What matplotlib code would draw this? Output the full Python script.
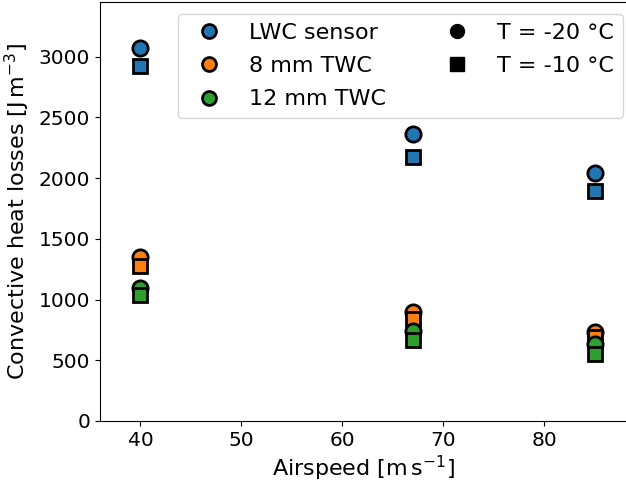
import matplotlib
matplotlib.use("Agg")
import matplotlib.pyplot as plt
from matplotlib.lines import Line2D

airspeed = [40, 67, 85]
sensors = ["LWC sensor", "8 mm TWC", "12 mm TWC"]
colors = ["#1f77b4", "#ff7f0e", "#2ca02c"]
# convective heat losses [J m^-3]
loss_m20 = {"LWC sensor": [3070, 2365, 2045],
            "8 mm TWC": [1350, 895, 735],
            "12 mm TWC": [1095, 745, 630]}
loss_m10 = {"LWC sensor": [2920, 2170, 1890],
            "8 mm TWC": [1275, 840, 690],
            "12 mm TWC": [1040, 670, 555]}
temp_labels = ["T = -20 °C", "T = -10 °C"]

plt.rcParams['font.size'] = 16
fig = plt.figure(figsize=(6.26, 4.82), dpi=100)
W, H = 626, 482
ax = fig.add_axes([100 / W, (H - 421) / H, 527 / W, 419 / H])

for s, c in zip(sensors, colors):
    ax.plot(airspeed, loss_m20[s], 'o', ms=11, mfc=c, mec='black', mew=2, ls='none')
    ax.plot(airspeed, loss_m10[s], 's', ms=10.5, mfc=c, mec='black', mew=2, ls='none')

ax.set_xlim(36.0, 88.2)
ax.set_ylim(0, 3450)
ax.set_xticks([40, 50, 60, 70, 80])
ax.set_yticks([0, 500, 1000, 1500, 2000, 2500, 3000])
ax.tick_params(labelsize=14.5)
ax.set_xlabel(r"Airspeed [$\mathrm{m\,s^{-1}}$]", labelpad=3)
ax.set_ylabel(r"Convective heat losses [$\mathrm{J\,m^{-3}}$]", labelpad=5)

handles = [Line2D([], [], marker='o', ls='none', ms=10, mfc=c, mec='black', mew=2) for c in colors]
handles += [Line2D([], [], marker='o', ls='none', ms=10, mfc='black', mec='black'),
            Line2D([], [], marker='s', ls='none', ms=10, mfc='black', mec='black')]
labels = sensors + temp_labels
ax.legend(handles, labels, ncol=2, loc='upper right', fontsize=16,
          bbox_to_anchor=(0.992, 0.972), borderaxespad=0,
          handletextpad=0.8, columnspacing=2.2, labelspacing=0.6)

fig.savefig("out.png", dpi=100)
